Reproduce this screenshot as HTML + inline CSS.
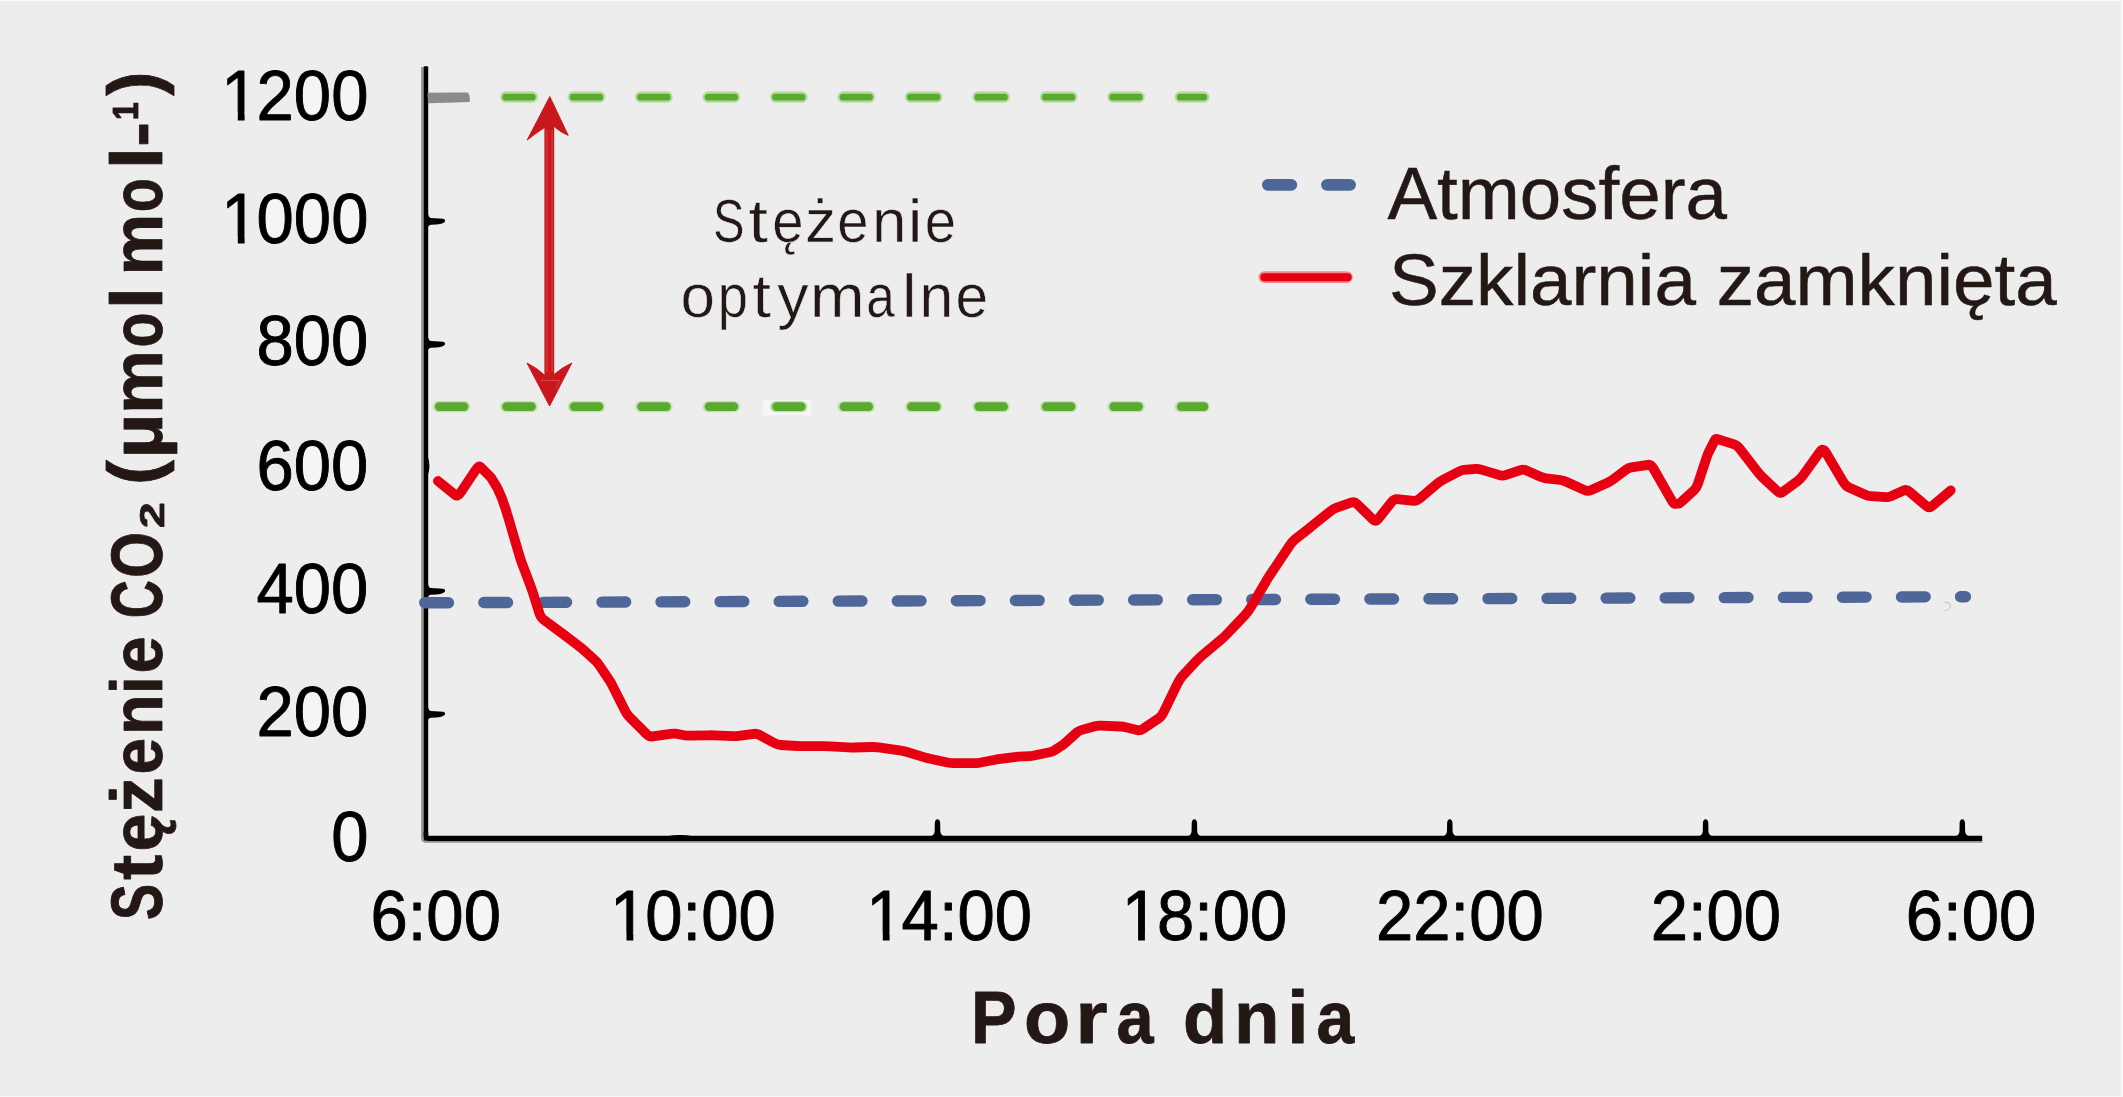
<!DOCTYPE html>
<html lang="pl"><head><meta charset="utf-8"><title>Stężenie CO₂ – pora dnia</title>
<style>
html,body{margin:0;padding:0;background:#ededed;overflow:hidden}
svg{display:block}
text{font-family:"Liberation Sans",sans-serif;font-kerning:none}
.num{font-size:67px;fill:#000;stroke:#000;stroke-width:.9px;stroke-linejoin:round}
.leg{font-size:74.5px;fill:#231815;stroke:#231815;stroke-width:.5px}
.opt{font-size:61.5px;fill:#231815;stroke:#ededed;stroke-width:.5px}
.ttl{font-weight:bold;fill:#231815;stroke:#231815;stroke-width:.8px;stroke-linejoin:round}
</style></head><body>
<svg width="2123" height="1097" viewBox="0 0 2123 1097">
<rect width="2123" height="1097" fill="#ededed"/>
<rect x="0" y="0" width="2123" height="1.3" fill="#fbfbfb"/>
<rect x="0" y="1096" width="2123" height="1" fill="#f8f8f8"/>
<rect x="2121" y="0" width="2" height="1097" fill="#f8f8f8"/>
<rect x="762.7" y="400" width="48.3" height="15.4" fill="#f6f6f6"/>
<path d="M422.5 67V837" fill="none" stroke="#979191" stroke-width="2.7"/>
<path d="M426 841.8H1982.2" fill="none" stroke="#979191" stroke-width="1.9"/>
<path d="M425.95 66.6V836" fill="none" stroke="#000" stroke-width="4.5"/>
<path d="M428 838.4H1982.2" fill="none" stroke="#000" stroke-width="5.2"/>
<path d="M421.15 836.5V838.6Q421.3 842.75 426.2 842.75V838Z" fill="#979191"/>
<path d="M425.95 832V838.4H432" fill="none" stroke="#000" stroke-width="4.5" stroke-linejoin="round"/>
<path d="M424 67.5Q425.8 65 427.6 67.5Z" fill="#000"/>
<path d="M427.5 211.3Q428.2 217.7 431 218.0L443 218.7Q446.2 219.7 444.6 221.9Q442 224.3 436 224.5L431 224.7Q428.4 224.9 427.5 228.3Z" fill="#000"/>
<path d="M427.5 334.4Q428.2 340.8 431 341.1L443 341.8Q446.2 342.8 444.6 345.0Q442 347.4 436 347.6L431 347.8Q428.4 348.0 427.5 351.4Z" fill="#000"/>
<path d="M427.5 581.4Q428.2 587.8 431 588.1L443 588.8Q446.2 589.8 444.6 592.0Q442 594.4 436 594.6L431 594.8Q428.4 595.0 427.5 598.4Z" fill="#000"/>
<path d="M427.5 704.4Q428.2 710.8 431 711.1L443 711.8Q446.2 712.8 444.6 715.0Q442 717.4 436 717.6L431 717.8Q428.4 718.0 427.5 721.4Z" fill="#000"/>
<path d="M427.5 456Q431.4 466 427.5 476Z" fill="#000"/>
<path d="M427.5 92.8Q448 92.2 468 92.5Q470.6 97 469.6 102Q448 102.7 428 103.2Z" fill="#8b8b8b"/>
<path d="M929.5 836.4Q934.5 836 934.7 831L934.8 823Q935.1 819.2 937.5 819.2Q939.9 819.2 940.2 823L940.3 831Q940.5 836 945.5 836.4Z" fill="#000"/>
<path d="M1186.4 836.4Q1191.4 836 1191.6 831L1191.7 823Q1192.0 819.2 1194.4 819.2Q1196.8 819.2 1197.1 823L1197.2 831Q1197.4 836 1202.4 836.4Z" fill="#000"/>
<path d="M1441.8 836.4Q1446.8 836 1447.0 831L1447.1 823Q1447.4 819.2 1449.8 819.2Q1452.2 819.2 1452.5 823L1452.6 831Q1452.8 836 1457.8 836.4Z" fill="#000"/>
<path d="M1697.6 836.4Q1702.6 836 1702.8 831L1702.9 823Q1703.2 819.2 1705.6 819.2Q1708.0 819.2 1708.3 823L1708.4 831Q1708.6 836 1713.6 836.4Z" fill="#000"/>
<path d="M1954.3 836.4Q1959.3 836 1959.5 831L1959.6 823Q1959.9 819.2 1962.3 819.2Q1964.7 819.2 1965.0 823L1965.1 831Q1965.3 836 1970.3 836.4Z" fill="#000"/>
<path d="M666 836.4Q680 833.6 694 836.4Z" fill="#000"/>
<g fill="none" stroke-linecap="round">
<path d="M505.8 97H1203.9" stroke="#b6dba2" stroke-width="11.4" stroke-dasharray="26.4 41.05"/>
<path d="M505.7 97.2H1203.9" stroke="#5aaa2e" stroke-width="6.8" stroke-dasharray="26.6 40.85"/>
<path d="M438.4 406.6H1203.9" stroke="#c2e2b2" stroke-width="11.4" stroke-dasharray="26.2 41.25"/>
<path d="M439.2 406.6H1204" stroke="#5aaa2e" stroke-width="8.8" stroke-dasharray="24.8 42.65"/>
</g>
<path d="M424.75 602.8L1965.45 596.7" fill="none" stroke="#4f6699" stroke-width="11.4" stroke-linecap="round" stroke-dasharray="23.7 35.37"/>
<path d="M1944 602.5q7 -.5 6.5 3.5t-6.5 5" fill="none" stroke="#c2cde2" stroke-width="1.2"/>
<path d="M437.9 481.0L455.1 494.9Q457.7 497.0 460.4 492.9L476.1 469.4Q478.8 465.3 480.4 466.9L489.5 476.0Q491.1 477.6 491.9 479.0L496.7 486.9Q497.5 488.3 498.1 489.6L501.4 497.1Q502.0 498.4 502.6 500.2L506.0 510.2Q506.6 512.0 507.1 513.8L510.1 523.7Q510.6 525.5 511.8 529.8L519.0 554.2Q520.2 558.5 521.7 562.6L530.4 585.6Q531.9 589.7 533.1 593.3L539.6 614.0Q540.8 617.6 543.2 619.4L556.9 629.5Q559.3 631.3 562.0 633.3L577.3 644.8Q580.0 646.8 582.3 648.8L595.1 660.4Q597.4 662.4 599.2 665.1L609.5 680.5Q611.3 683.2 613.3 687.3L624.8 710.3Q626.8 714.4 629.7 717.3L646.5 734.0Q649.4 736.9 652.5 736.4L670.5 733.9Q673.6 733.4 675.4 733.7L685.6 735.5Q687.4 735.8 690.6 735.7L708.5 735.3Q711.7 735.2 714.8 735.3L732.8 736.1Q735.9 736.2 738.6 735.8L754.0 733.8Q756.7 733.4 759.4 734.9L774.8 743.3Q777.5 744.8 780.4 745.0L797.1 746.0Q800.0 746.2 803.6 746.2L823.8 746.2Q827.4 746.2 830.5 746.4L848.0 747.4Q851.1 747.6 854.2 747.5L871.7 747.0Q874.8 746.9 878.5 747.4L899.5 750.4Q903.2 750.9 906.3 751.8L923.8 757.1Q926.9 758.0 930.0 758.7L947.5 762.5Q950.6 763.2 954.0 763.2L973.3 763.2Q976.7 763.2 979.5 762.7L995.2 759.7Q998.0 759.2 1000.5 758.9L1014.5 757.1Q1017.0 756.8 1018.8 756.7L1029.4 756.2Q1031.2 756.1 1034.0 755.5L1049.7 752.2Q1052.5 751.6 1054.0 750.6L1062.9 744.8Q1064.4 743.8 1066.2 742.1L1076.8 732.5Q1078.6 730.8 1081.1 730.1L1095.0 726.2Q1097.5 725.5 1100.9 725.7L1120.2 726.5Q1123.6 726.7 1125.8 727.2L1138.0 730.3Q1140.2 730.8 1143.0 728.9L1158.7 718.4Q1161.5 716.5 1163.9 711.6L1177.6 683.4Q1180.0 678.5 1182.5 675.8L1196.7 660.6Q1199.2 657.9 1202.4 655.2L1220.6 640.1Q1223.8 637.4 1227.0 634.0L1245.2 614.8Q1248.4 611.4 1250.9 607.1L1265.1 582.9Q1267.6 578.6 1270.8 573.8L1289.0 546.5Q1292.2 541.7 1294.7 539.7L1308.8 528.6Q1311.3 526.6 1314.1 524.3L1330.4 511.2Q1333.2 508.9 1336.0 507.9L1351.7 502.4Q1354.5 501.4 1357.2 504.1L1372.9 519.5Q1375.6 522.2 1378.0 519.2L1391.8 501.8Q1394.2 498.8 1397.1 499.1L1413.7 500.9Q1416.6 501.2 1419.6 498.6L1436.8 484.1Q1439.8 481.5 1442.6 480.0L1458.9 471.5Q1461.7 470.0 1463.8 469.8L1476.0 468.9Q1478.1 468.7 1481.3 469.6L1499.5 475.1Q1502.7 476.0 1505.4 475.1L1520.5 470.1Q1523.2 469.2 1525.9 470.3L1541.0 476.9Q1543.7 478.0 1546.2 478.3L1560.5 480.0Q1563.0 480.3 1566.2 481.8L1584.6 490.1Q1587.8 491.6 1590.7 490.3L1607.5 482.7Q1610.4 481.4 1612.8 479.6L1626.1 469.6Q1628.5 467.8 1631.4 467.4L1648.2 464.8Q1651.1 464.4 1654.0 469.5L1670.8 498.9Q1673.7 504.0 1674.4 503.9L1678.7 503.7Q1679.4 503.6 1681.6 501.6L1694.2 490.2Q1696.4 488.2 1697.9 483.8L1706.2 458.7Q1707.7 454.3 1708.7 452.2L1714.6 440.5Q1715.6 438.4 1718.4 439.3L1734.3 444.3Q1737.1 445.2 1740.0 449.0L1756.8 470.8Q1759.7 474.6 1762.3 477.1L1777.4 491.3Q1780.0 493.8 1782.7 491.9L1797.7 481.0Q1800.4 479.1 1803.3 475.0L1820.1 451.6Q1823.0 447.5 1825.9 452.5L1842.7 480.9Q1845.6 485.9 1848.5 487.2L1865.3 494.8Q1868.2 496.1 1870.8 496.2L1885.9 497.1Q1888.5 497.2 1890.9 496.2L1904.2 490.3Q1906.6 489.3 1909.5 491.8L1926.3 506.0Q1929.2 508.5 1932.0 506.1L1950.7 490.4" fill="none" stroke="#e60012" stroke-width="9.8" stroke-linejoin="round" stroke-linecap="round"/>
<g fill="#c9171e" stroke="#c9171e" stroke-linejoin="round">
<path d="M549.3 126V378" fill="none" stroke-width="9.8"/>
<path d="M549.8 96.6L568.2 135.4Q561.5 133 554.2 126.6L544.2 127.8Q536 133 527.2 140Z" stroke-width="1"/>
<path d="M549.6 406L571.8 363Q562 367.5 554.2 374.4L544.4 375Q537 368 527 363Z" stroke-width="1"/>
</g>
<path d="M546.8 130V372M552.1 130V372M540.5 380.4H559.5L556 388" fill="none" stroke="#e5524f" stroke-width="0.8"/>
<path d="M1267.9 184.85H1350" fill="none" stroke="#4f6699" stroke-width="11.9" stroke-linecap="round" stroke-dasharray="23.4 35.7"/>
<path d="M1264.2 277.1H1347" fill="none" stroke="#f18c8e" stroke-width="11.6" stroke-linecap="round"/>
<path d="M1264.4 277.3H1347.6" fill="none" stroke="#e60012" stroke-width="8" stroke-linecap="round"/>
<text class="leg" transform="translate(1387.4 218.7)">Atmosfera</text>
<text class="leg" style="font-size:72.5px" transform="translate(1389 305) scale(1.0295 1)">Szklarnia zamknięta</text>
<text class="opt" y="242"><tspan x="713.1" textLength="31.5" lengthAdjust="spacingAndGlyphs">S</tspan><tspan x="748.3" textLength="19.8" lengthAdjust="spacingAndGlyphs">t</tspan><tspan x="772.2" textLength="31.3" lengthAdjust="spacingAndGlyphs">ę</tspan><tspan x="805.1" textLength="31.1" lengthAdjust="spacingAndGlyphs">ż</tspan><tspan x="837.3" textLength="31.3" lengthAdjust="spacingAndGlyphs">e</tspan><tspan x="871.9" textLength="34.4" lengthAdjust="spacingAndGlyphs">n</tspan><tspan x="907.8" textLength="14.7" lengthAdjust="spacingAndGlyphs">i</tspan><tspan x="924.7" textLength="31.3" lengthAdjust="spacingAndGlyphs">e</tspan></text>
<text class="opt" y="317.2"><tspan x="680.5" textLength="34.5" lengthAdjust="spacingAndGlyphs">o</tspan><tspan x="717.8" textLength="30.2" lengthAdjust="spacingAndGlyphs">p</tspan><tspan x="752.2" textLength="18.8" lengthAdjust="spacingAndGlyphs">t</tspan><tspan x="777.2" textLength="31.3" lengthAdjust="spacingAndGlyphs">y</tspan><tspan x="809.7" textLength="54.9" lengthAdjust="spacingAndGlyphs">m</tspan><tspan x="866.3" textLength="28.6" lengthAdjust="spacingAndGlyphs">a</tspan><tspan x="901.8" textLength="15.0" lengthAdjust="spacingAndGlyphs">l</tspan><tspan x="919.5" textLength="33.8" lengthAdjust="spacingAndGlyphs">n</tspan><tspan x="955.6" textLength="32.6" lengthAdjust="spacingAndGlyphs">e</tspan></text>
<ellipse cx="312.5" cy="95.5" rx="11.0" ry="19.8" fill="#f5f5f5"/>
<ellipse cx="349.8" cy="95.5" rx="11.0" ry="19.8" fill="#f5f5f5"/>
<text class="num" transform="translate(219.35 119.6) scale(1 1.045)" x="2.00 37.26 74.52 111.79">1200</text>
<ellipse cx="275.2" cy="219.2" rx="11.0" ry="19.8" fill="#f5f5f5"/>
<ellipse cx="312.5" cy="219.2" rx="11.0" ry="19.8" fill="#f5f5f5"/>
<ellipse cx="349.8" cy="219.2" rx="11.0" ry="19.8" fill="#f5f5f5"/>
<text class="num" transform="translate(219.35 243.3) scale(1 1.045)" x="2.00 37.26 74.52 111.79">1000</text>
<ellipse cx="312.5" cy="341.0" rx="11.0" ry="19.8" fill="#f5f5f5"/>
<ellipse cx="349.8" cy="341.0" rx="11.0" ry="19.8" fill="#f5f5f5"/>
<text class="num" transform="translate(256.61 365.1) scale(1 1.045)" x="0.00 37.26 74.52">800</text>
<ellipse cx="312.5" cy="465.8" rx="11.0" ry="19.8" fill="#f5f5f5"/>
<ellipse cx="349.8" cy="465.8" rx="11.0" ry="19.8" fill="#f5f5f5"/>
<text class="num" transform="translate(256.61 489.9) scale(1 1.045)" x="0.00 37.26 74.52">600</text>
<ellipse cx="312.5" cy="589.1" rx="11.0" ry="19.8" fill="#f5f5f5"/>
<ellipse cx="349.8" cy="589.1" rx="11.0" ry="19.8" fill="#f5f5f5"/>
<text class="num" transform="translate(256.61 613.2) scale(1 1.045)" x="0.00 37.26 74.52">400</text>
<ellipse cx="312.5" cy="712.0" rx="11.0" ry="19.8" fill="#f5f5f5"/>
<ellipse cx="349.8" cy="712.0" rx="11.0" ry="19.8" fill="#f5f5f5"/>
<text class="num" transform="translate(256.61 736.1) scale(1 1.045)" x="0.00 37.26 74.52">200</text>
<ellipse cx="349.8" cy="836.6" rx="11.0" ry="19.8" fill="#f5f5f5"/>
<text class="num" transform="translate(331.14 860.7) scale(1 1.045)" x="0.00">0</text>
<ellipse cx="445.0" cy="916.3" rx="11.0" ry="19.8" fill="#f5f5f5"/>
<ellipse cx="482.3" cy="916.3" rx="11.0" ry="19.8" fill="#f5f5f5"/>
<text class="num" transform="translate(370.50 940.4) scale(1 1.045)" x="0.00 37.26 55.88 93.14">6:00</text>
<ellipse cx="664.0" cy="916.3" rx="11.0" ry="19.8" fill="#f5f5f5"/>
<ellipse cx="719.8" cy="916.3" rx="11.0" ry="19.8" fill="#f5f5f5"/>
<ellipse cx="757.1" cy="916.3" rx="11.0" ry="19.8" fill="#f5f5f5"/>
<text class="num" transform="translate(608.07 940.4) scale(1 1.045)" x="2.00 37.26 74.52 93.14 130.40">10:00</text>
<ellipse cx="976.1" cy="916.3" rx="11.0" ry="19.8" fill="#f5f5f5"/>
<ellipse cx="1013.4" cy="916.3" rx="11.0" ry="19.8" fill="#f5f5f5"/>
<text class="num" transform="translate(864.37 940.4) scale(1 1.045)" x="2.00 37.26 74.52 93.14 130.40">14:00</text>
<ellipse cx="1231.4" cy="916.3" rx="11.0" ry="19.8" fill="#f5f5f5"/>
<ellipse cx="1268.7" cy="916.3" rx="11.0" ry="19.8" fill="#f5f5f5"/>
<text class="num" transform="translate(1119.67 940.4) scale(1 1.045)" x="2.00 37.26 74.52 93.14 130.40">18:00</text>
<ellipse cx="1487.8" cy="916.3" rx="11.0" ry="19.8" fill="#f5f5f5"/>
<ellipse cx="1525.1" cy="916.3" rx="11.0" ry="19.8" fill="#f5f5f5"/>
<text class="num" transform="translate(1376.07 940.4) scale(1 1.045)" x="0.00 37.26 74.52 93.14 130.40">22:00</text>
<ellipse cx="1725.2" cy="916.3" rx="11.0" ry="19.8" fill="#f5f5f5"/>
<ellipse cx="1762.5" cy="916.3" rx="11.0" ry="19.8" fill="#f5f5f5"/>
<text class="num" transform="translate(1650.70 940.4) scale(1 1.045)" x="0.00 37.26 55.88 93.14">2:00</text>
<ellipse cx="1980.3" cy="916.3" rx="11.0" ry="19.8" fill="#f5f5f5"/>
<ellipse cx="2017.6" cy="916.3" rx="11.0" ry="19.8" fill="#f5f5f5"/>
<text class="num" transform="translate(1905.80 940.4) scale(1 1.045)" x="0.00 37.26 55.88 93.14">6:00</text>
<g fill="#ededed"><rect x="225.1" y="112.7" width="12.7" height="8.4"/><rect x="244.6" y="112.7" width="12.4" height="8.4"/><rect x="225.1" y="236.4" width="12.7" height="8.4"/><rect x="244.6" y="236.4" width="12.4" height="8.4"/><rect x="613.8" y="933.5" width="12.7" height="8.4"/><rect x="633.3" y="933.5" width="12.4" height="8.4"/><rect x="870.1" y="933.5" width="12.7" height="8.4"/><rect x="889.6" y="933.5" width="12.4" height="8.4"/><rect x="1125.4" y="933.5" width="12.7" height="8.4"/><rect x="1144.9" y="933.5" width="12.4" height="8.4"/></g>
<text class="ttl" font-size="74" y="1043.4"><tspan x="971.1" textLength="45.6" lengthAdjust="spacingAndGlyphs">P</tspan><tspan x="1024.1" textLength="46.2" lengthAdjust="spacingAndGlyphs">o</tspan><tspan x="1075.3" textLength="32.3" lengthAdjust="spacingAndGlyphs">r</tspan><tspan x="1116.5" textLength="37.1" lengthAdjust="spacingAndGlyphs">a</tspan> <tspan x="1182.9" textLength="44.2" lengthAdjust="spacingAndGlyphs">d</tspan><tspan x="1234.1" textLength="45.5" lengthAdjust="spacingAndGlyphs">n</tspan><tspan x="1287.1" textLength="21.7" lengthAdjust="spacingAndGlyphs">i</tspan><tspan x="1316.5" textLength="37.7" lengthAdjust="spacingAndGlyphs">a</tspan></text>
<text class="ttl" font-size="71.5" transform="translate(162.4 1000) rotate(-90)"><tspan x="79.9" y="0" textLength="36.0" lengthAdjust="spacingAndGlyphs">S</tspan><tspan x="120.1" y="0" textLength="25.3" lengthAdjust="spacingAndGlyphs">t</tspan><tspan x="148.4" y="0" textLength="37.9" lengthAdjust="spacingAndGlyphs">ę</tspan><tspan x="187.0" y="0" textLength="35.7" lengthAdjust="spacingAndGlyphs">ż</tspan><tspan x="225.6" y="0" textLength="36.6" lengthAdjust="spacingAndGlyphs">e</tspan><tspan x="265.1" y="0" textLength="40.9" lengthAdjust="spacingAndGlyphs">n</tspan><tspan x="305.8" y="0" textLength="18.0" lengthAdjust="spacingAndGlyphs">i</tspan><tspan x="326.4" y="0" textLength="37.2" lengthAdjust="spacingAndGlyphs">e</tspan> <tspan x="381.8" y="0" textLength="38.2" lengthAdjust="spacingAndGlyphs">C</tspan><tspan x="422.2" y="0" textLength="45.8" lengthAdjust="spacingAndGlyphs">O</tspan><tspan x="469.7" y="0" textLength="29.8" lengthAdjust="spacingAndGlyphs">₂</tspan> <tspan x="515.1" y="-3.6" textLength="24.9" lengthAdjust="spacingAndGlyphs">(</tspan><tspan x="541.5" y="0" textLength="45.1" lengthAdjust="spacingAndGlyphs">µ</tspan><tspan x="586.1" y="0" textLength="64.1" lengthAdjust="spacingAndGlyphs">m</tspan><tspan x="652.6" y="0" textLength="34.9" lengthAdjust="spacingAndGlyphs">o</tspan><tspan x="690.5" y="0" textLength="23.0" lengthAdjust="spacingAndGlyphs">l</tspan> <tspan x="724.6" y="0" textLength="61.8" lengthAdjust="spacingAndGlyphs">m</tspan><tspan x="787.7" y="0" textLength="34.2" lengthAdjust="spacingAndGlyphs">o</tspan><tspan x="830.6" y="0" textLength="23.0" lengthAdjust="spacingAndGlyphs">l</tspan><tspan x="853.3" y="0" textLength="24.7" lengthAdjust="spacingAndGlyphs">-</tspan><tspan x="879.5" y="0" textLength="19.2" lengthAdjust="spacingAndGlyphs">¹</tspan><tspan x="904.2" y="-3.6" textLength="24.1" lengthAdjust="spacingAndGlyphs">)</tspan></text>
</svg></body></html>
